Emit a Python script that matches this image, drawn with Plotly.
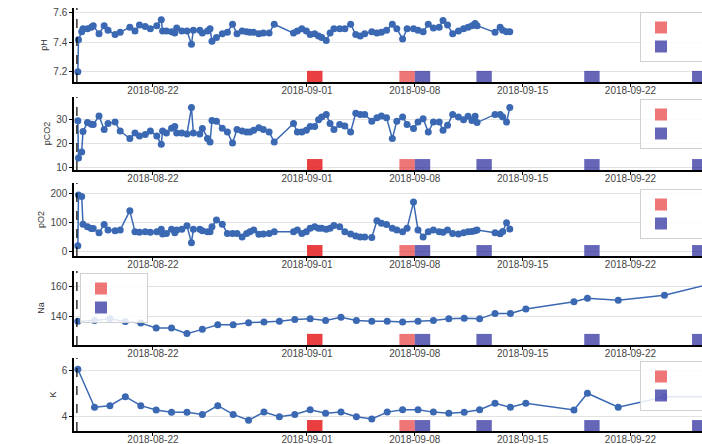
import plotly.graph_objects as go

# ---------------- data ----------------
bg_times = [
    "2018-08-17 03:00", "2018-08-17 04:00", "2018-08-17 09:00", "2018-08-17 11:00", "2018-08-17 18:00",
    "2018-08-18 00:00", "2018-08-18 03:00", "2018-08-18 12:00", "2018-08-18 20:00", "2018-08-19 02:00",
    "2018-08-19 13:00", "2018-08-19 21:00", "2018-08-20 12:00", "2018-08-20 20:00", "2018-08-21 03:00",
    "2018-08-21 12:00", "2018-08-21 20:00", "2018-08-22 06:00", "2018-08-22 13:00", "2018-08-22 15:00",
    "2018-08-22 21:00", "2018-08-23 05:00", "2018-08-23 10:00", "2018-08-23 13:00", "2018-08-23 21:00",
    "2018-08-24 05:00", "2018-08-24 12:00", "2018-08-24 15:00", "2018-08-25 01:00", "2018-08-25 05:00",
    "2018-08-25 13:00", "2018-08-25 17:00", "2018-08-25 20:00", "2018-08-26 03:00", "2018-08-26 12:00",
    "2018-08-26 20:00", "2018-08-27 04:00", "2018-08-27 11:00", "2018-08-27 19:00", "2018-08-28 02:00",
    "2018-08-28 07:00", "2018-08-28 13:00", "2018-08-28 21:00", "2018-08-29 04:00", "2018-08-29 13:00",
    "2018-08-29 21:00", "2018-08-31 03:00", "2018-08-31 09:00", "2018-08-31 16:00", "2018-08-31 23:00",
    "2018-09-01 05:00", "2018-09-01 12:00", "2018-09-01 18:00", "2018-09-01 23:00", "2018-09-02 06:00",
    "2018-09-02 12:00", "2018-09-02 18:00", "2018-09-03 03:00", "2018-09-03 11:00", "2018-09-03 20:00",
    "2018-09-04 04:00", "2018-09-04 11:00", "2018-09-04 18:00", "2018-09-05 05:00", "2018-09-05 13:00",
    "2018-09-05 20:00", "2018-09-06 04:00", "2018-09-06 13:00", "2018-09-06 20:00", "2018-09-07 05:00",
    "2018-09-07 12:00", "2018-09-07 22:00", "2018-09-08 05:00", "2018-09-08 13:00", "2018-09-08 21:00",
    "2018-09-09 05:00", "2018-09-09 14:00", "2018-09-09 20:00", "2018-09-10 03:00", "2018-09-10 11:00",
    "2018-09-10 20:00", "2018-09-11 04:00", "2018-09-11 11:00", "2018-09-11 17:00", "2018-09-11 22:00",
    "2018-09-12 01:00", "2018-09-13 05:00", "2018-09-13 13:00", "2018-09-13 17:00", "2018-09-13 23:00",
    "2018-09-14 04:00",
]

ph = [
    7.20, 7.415, 7.47, 7.49, 7.49, 7.50, 7.51, 7.455, 7.51, 7.48,
    7.45, 7.465, 7.50, 7.475, 7.515, 7.505, 7.49, 7.51, 7.55, 7.475,
    7.475, 7.47, 7.46, 7.495, 7.475, 7.475, 7.385, 7.48, 7.48, 7.46,
    7.475, 7.49, 7.405, 7.43, 7.455, 7.465, 7.52, 7.455, 7.475, 7.47,
    7.465, 7.465, 7.455, 7.46, 7.46, 7.52, 7.46, 7.475, 7.49, 7.475,
    7.45, 7.455, 7.44, 7.43, 7.41, 7.46, 7.49, 7.49, 7.49, 7.52,
    7.45, 7.44, 7.455, 7.47, 7.46, 7.465, 7.48, 7.52, 7.49, 7.42,
    7.49, 7.49, 7.48, 7.47, 7.52, 7.495, 7.50, 7.545, 7.515, 7.455,
    7.475, 7.49, 7.50, 7.51, 7.525, 7.51, 7.465, 7.50, 7.48, 7.47,
    7.47,
]

pco2 = [
    29.5, 14.0, 16.5, 25.0, 28.7, 28.0, 27.9, 31.4, 25.8, 28.3,
    28.9, 25.2, 22.1, 24.4, 23.1, 23.8, 25.2, 23.1, 19.7, 25.2,
    24.4, 26.4, 27.1, 24.4, 24.4, 24.0, 34.9, 24.4, 24.0, 26.2,
    22.1, 20.7, 29.6, 29.3, 26.4, 24.8, 20.2, 25.8, 25.2, 24.8,
    24.8, 25.5, 26.6, 25.8, 24.8, 20.7, 28.3, 24.8, 24.8, 25.5,
    27.1, 27.1, 29.9, 31.0, 32.1, 28.3, 25.8, 27.9, 27.3, 24.8,
    32.6, 32.1, 32.1, 29.3, 30.7, 31.4, 30.7, 22.1, 29.3, 31.0,
    27.9, 26.2, 28.9, 30.3, 24.8, 28.9, 28.9, 25.5, 27.6, 32.1,
    31.0, 29.9, 31.3, 29.6, 31.3, 28.7, 32.1, 32.1, 31.0, 28.9,
    34.9,
]

po2 = [
    20, 196, 190, 95, 86, 80, 80, 65, 94, 75,
    72, 75, 141, 69, 67, 69, 67, 69, 77, 61,
    63, 77, 65, 75, 77, 89, 31, 77, 77, 72,
    69, 69, 86, 109, 95, 63, 63, 63, 51, 63,
    69, 75, 60, 61, 63, 69, 69, 75, 63, 69,
    81, 86, 81, 81, 77, 81, 90, 86, 69, 61,
    54, 51, 51, 49, 107, 98, 94, 81, 75, 69,
    81, 171, 75, 51, 69, 75, 69, 67, 75, 63,
    61, 65, 69, 70, 72, 75, 65, 62, 70, 100,
    78,
]

lyte_times = [
    "2018-08-17 03:00", "2018-08-18 05:00", "2018-08-19 05:00", "2018-08-20 05:00", "2018-08-21 05:00",
    "2018-08-22 05:00", "2018-08-23 05:00", "2018-08-24 05:00", "2018-08-25 05:00", "2018-08-26 05:00",
    "2018-08-27 05:00", "2018-08-28 05:00", "2018-08-29 05:00", "2018-08-30 05:00", "2018-08-31 05:00",
    "2018-09-01 05:00", "2018-09-02 05:00", "2018-09-03 05:00", "2018-09-04 05:00", "2018-09-05 05:00",
    "2018-09-06 05:00", "2018-09-07 05:00", "2018-09-08 05:00", "2018-09-09 05:00", "2018-09-10 05:00",
    "2018-09-11 05:00", "2018-09-12 05:00", "2018-09-13 05:00", "2018-09-14 05:00", "2018-09-15 05:00",
    "2018-09-18 08:00", "2018-09-19 05:00", "2018-09-21 05:00", "2018-09-24 05:00", "2018-09-27 05:00",
]

na = [
    137.0, 137.4, 138.5, 136.8, 135.7, 132.5, 132.5, 128.8, 131.6, 134.6,
    134.6, 136.0, 136.5, 137.0, 138.0, 138.5, 137.5, 139.5, 137.5, 137.0,
    137.0, 136.5, 137.0, 137.5, 138.5, 138.9, 138.5, 142.1, 142.1, 145.0,
    149.7, 152.0, 150.8, 154.0, 161.5,
]

k = [
    6.06, 4.41, 4.48, 4.87, 4.48, 4.29, 4.19, 4.19, 4.10, 4.48,
    4.10, 3.85, 4.20, 4.00, 4.10, 4.30, 4.15, 4.20, 4.00, 3.90,
    4.20, 4.30, 4.30, 4.20, 4.15, 4.19, 4.30, 4.58, 4.41, 4.58,
    4.29, 5.02, 4.41, 4.87, 4.87,
]

red_days = ["2018-09-01", "2018-09-01", "2018-09-07"]
blue_days = ["2018-09-08", "2018-09-12", "2018-09-19", "2018-09-26"]

admit_time = "2018-08-17 01:30"
x_ticks = ["2018-08-22", "2018-09-01", "2018-09-08", "2018-09-15", "2018-09-22"]
x_range = ["2018-08-16 21:00", "2018-09-26 15:30"]

# ---------------- style / layout ----------------
W, H = 702, 444
ML = 74
BLUE_LINE = "#3a68b2"
RED = "rgba(228,26,28,0.6)"
NAVY = "rgba(0,0,139,0.6)"
DAY_MS = 86400000
BAND = 0.15

panels = [
    dict(title="pH", x=bg_times, y=ph, rng=[7.131, 7.629], tick=[7.2, 7.4, 7.6], px=(8, 82),
         leg=(640, 12)),
    dict(title="pCO2", x=bg_times, y=pco2, rng=[9.05, 39.3], tick=[10, 20, 30], px=(97, 170),
         leg=(640, 99)),
    dict(title="pO2", x=bg_times, y=po2, rng=[-15, 237], tick=[0, 100, 200], px=(183, 256),
         leg=(640, 189)),
    dict(title="Na", x=lyte_times, y=na, rng=[121.3, 170], tick=[140, 160], px=(271, 345),
         leg=(80, 273)),
    dict(title="K", x=lyte_times, y=k, rng=[3.38, 6.55], tick=[4, 6], px=(358, 431),
         leg=(640, 361)),
]

fig = go.Figure()
layout = dict(
    width=W, height=H,
    margin=dict(l=ML, r=0, t=0, b=0, autoexpand=False),
    paper_bgcolor="white", plot_bgcolor="white",
    font=dict(family="Liberation Sans, Arial, sans-serif", size=10, color="#444"),
    barmode="overlay",
    showlegend=True,
    shapes=[],
)

blank = "\u00a0" * 12
for i, p in enumerate(panels):
    n = i + 1
    sx = "" if n == 1 else str(n)
    ov = str(n + 5)
    top_px, bot_px = p["px"]
    dom = [(H - bot_px) / H, (H - top_px) / H]
    legname = "legend" if n == 1 else f"legend{n}"

    layout[f"xaxis{sx}"] = dict(
        domain=[0, 1], anchor=f"y{sx}", range=x_range, type="date",
        matches=None if n == 1 else "x",
        tickvals=x_ticks, tickformat="%Y-%m-%d",
        showline=True, linecolor="black", linewidth=1.5,
        ticks="outside", ticklen=3, tickcolor="black",
        showgrid=False, zeroline=False, automargin=False,
        tickfont=dict(size=10, color="#444"),
    )
    layout[f"yaxis{sx}"] = dict(
        domain=dom, anchor=f"x{sx}", range=p["rng"], tickvals=p["tick"],
        showline=True, linecolor="black", linewidth=1.5,
        ticks="outside", ticklen=3, tickcolor="black",
        showgrid=True, gridcolor="#e3e3e3", gridwidth=1, zeroline=False,
        automargin=False, tickfont=dict(size=10, color="#444"),
        title=dict(text=p["title"], font=dict(size=9, color="#333"), standoff=4),
    )
    layout[f"yaxis{ov}"] = dict(
        overlaying=f"y{sx}", anchor=f"x{sx}", range=[0, 1], visible=False,
    )
    layout[legname] = dict(
        x=(p["leg"][0] - ML) / (W - ML), y=(H - p["leg"][1]) / H,
        xanchor="left", yanchor="top",
        bgcolor="rgba(255,255,255,0.85)", bordercolor="#d0d0d0", borderwidth=1,
        font=dict(size=6), tracegroupgap=0, itemwidth=30,
    )

    # event bars
    fig.add_trace(go.Bar(
        x=red_days, y=[BAND] * len(red_days), base=0,
        width=DAY_MS, offset=0, xaxis=f"x{sx}", yaxis=f"y{ov}",
        marker=dict(color=RED, line=dict(width=0)),
        name=blank, legend=legname, showlegend=True, hoverinfo="skip",
    ))
    fig.add_trace(go.Bar(
        x=blue_days, y=[BAND] * len(blue_days), base=0,
        width=DAY_MS, offset=0, xaxis=f"x{sx}", yaxis=f"y{ov}",
        marker=dict(color=NAVY, line=dict(width=0)),
        name=blank, legend=legname, showlegend=True, hoverinfo="skip",
    ))
    # measurement line
    fig.add_trace(go.Scatter(
        x=p["x"], y=p["y"], mode="lines+markers", xaxis=f"x{sx}", yaxis=f"y{sx}",
        line=dict(color=BLUE_LINE, width=1.5),
        marker=dict(color=BLUE_LINE, size=7),
        showlegend=False, name=p["title"],
    ))
    # admission marker line
    layout["shapes"].append(dict(
        type="line", xref=f"x{sx}", yref=f"y{sx} domain",
        x0=admit_time, x1=admit_time, y0=0, y1=1,
        line=dict(color="black", width=1.2, dash="dash"),
    ))

fig.update_layout(**layout)
try:
    fig.update_xaxes(ticklabelstandoff=-5)
except Exception:
    pass

fig.write_html(
    "out.html",
    config={"displayModeBar": False},
    post_script="document.body.style.margin='0';document.body.style.overflow='hidden';"
                "document.documentElement.style.overflow='hidden';",
)
